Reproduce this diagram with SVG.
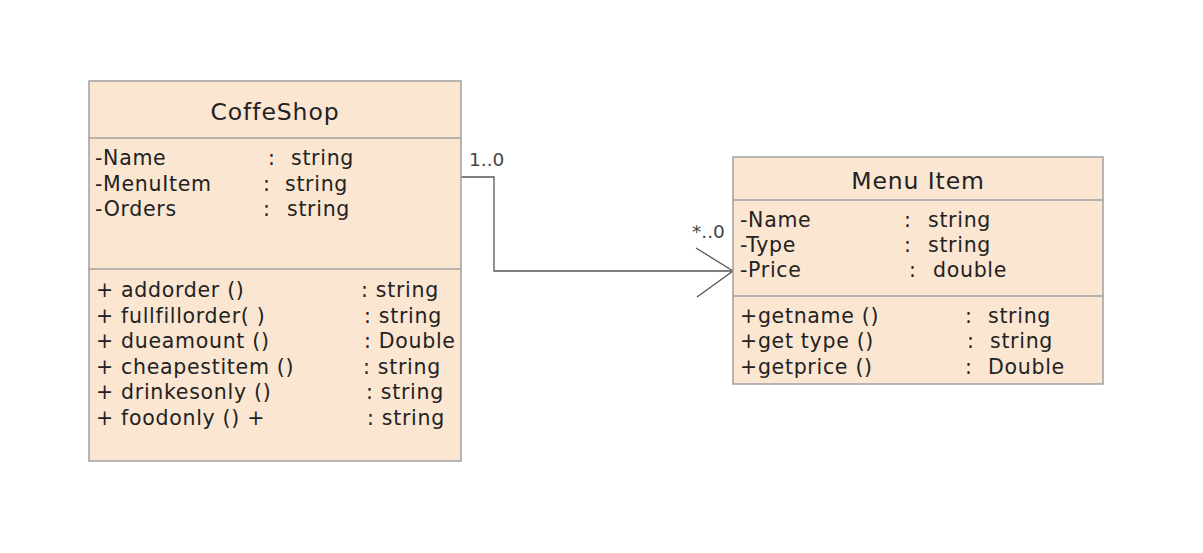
<svg xmlns="http://www.w3.org/2000/svg" width="1203" height="553" viewBox="0 0 1203 553">
<style>
.box{fill:#fbe6d2;stroke:#a0a0a0;stroke-width:1.5}
.sep{stroke:#a0a0a0;stroke-width:1.5}
.t{font-family:"DejaVu Sans",Verdana,sans-serif;font-size:20.5px;fill:#222;letter-spacing:0.7px}
.title{font-family:"DejaVu Sans",Verdana,sans-serif;font-size:23.5px;fill:#222;text-anchor:middle;letter-spacing:0.9px}
.conn{fill:none;stroke:#555;stroke-width:1.3}
.lbl{font-family:"DejaVu Sans",Verdana,sans-serif;font-size:18.5px;fill:#444}
</style>
<rect width="1203" height="553" fill="#fff"/>
<g id="connectors">
<polyline class="conn" points="461,177 494,177 494,271 733,271"/>
<polyline class="conn" points="696,248 733,271 697,297"/>
<text class="lbl" x="469" y="166">1..0</text>
<text class="lbl" x="692" y="238">*..0</text>
</g>
<g id="coffeshop">
<rect class="box" x="89" y="81" width="372" height="380"/>
<line class="sep" x1="89" y1="138" x2="461" y2="138"/>
<line class="sep" x1="89" y1="269" x2="461" y2="269"/>
<text class="title" x="275" y="120">CoffeShop</text>
<text class="t" x="95" y="165">-Name</text><text class="t" x="268" y="165">:</text><text class="t" x="291" y="165">string</text>
<text class="t" x="95" y="191">-MenuItem</text><text class="t" x="263" y="191">:</text><text class="t" x="285" y="191">string</text>
<text class="t" x="95" y="216">-Orders</text><text class="t" x="263" y="216">:</text><text class="t" x="287" y="216">string</text>
<text class="t" x="96" y="297">+ addorder ()</text><text class="t" x="361" y="297">: string</text>
<text class="t" x="96" y="323">+ fullfillorder( )</text><text class="t" x="364" y="323">: string</text>
<text class="t" x="96" y="348">+ dueamount ()</text><text class="t" x="364" y="348">: Double</text>
<text class="t" x="96" y="374">+ cheapestitem ()</text><text class="t" x="363" y="374">: string</text>
<text class="t" x="96" y="399">+ drinkesonly ()</text><text class="t" x="366" y="399">: string</text>
<text class="t" x="96" y="425">+ foodonly () +</text><text class="t" x="367" y="425">: string</text>
</g>
<g id="menuitem">
<rect class="box" x="733" y="157" width="370" height="227"/>
<line class="sep" x1="733" y1="200" x2="1103" y2="200"/>
<line class="sep" x1="733" y1="296" x2="1103" y2="296"/>
<text class="title" x="918" y="189">Menu Item</text>
<text class="t" x="740" y="227">-Name</text><text class="t" x="904" y="227">:</text><text class="t" x="928" y="227">string</text>
<text class="t" x="740" y="252">-Type</text><text class="t" x="904" y="252">:</text><text class="t" x="928" y="252">string</text>
<text class="t" x="740" y="277">-Price</text><text class="t" x="909" y="277">:</text><text class="t" x="933" y="277">double</text>
<text class="t" x="740" y="323">+getname ()</text><text class="t" x="965" y="323">:</text><text class="t" x="988" y="323">string</text>
<text class="t" x="740" y="348">+get type ()</text><text class="t" x="967" y="348">:</text><text class="t" x="990" y="348">string</text>
<text class="t" x="740" y="374">+getprice ()</text><text class="t" x="965" y="374">:</text><text class="t" x="988" y="374">Double</text>
</g>
</svg>
